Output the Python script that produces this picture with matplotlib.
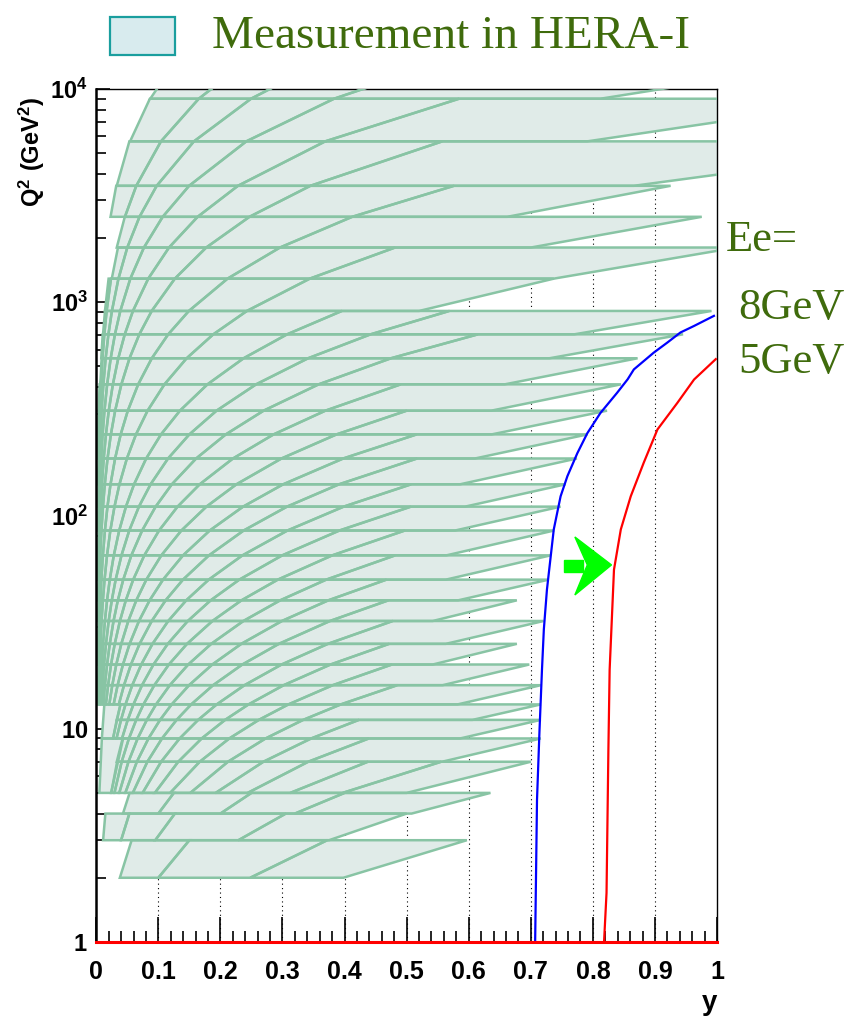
import numpy as np
import matplotlib.pyplot as plt
from matplotlib.patches import Polygon, Rectangle

plt.rcParams["mathtext.fontset"] = "custom"
plt.rcParams["mathtext.rm"] = "Liberation Sans"
plt.rcParams["mathtext.bf"] = "Liberation Sans:bold"

FILL = "#e0ebe8"
EDGE = "#88c4a4"
TXT = "#3f6b0c"

# constant-x lines of the bin grid, given as C = Q2 / y  (GeV^2)
curve_c = [106000, 54500, 36100, 23500, 15400, 10190, 6100, 3750, 2300, 1600,
           1150, 840, 620, 465, 358, 276, 217, 171, 135, 107, 85, 67, 53, 42,
           33, 26, 20.5, 16, 12.6, 10, 8, 6.3, 5]

# Q2 band edges (GeV^2)
band_q2 = [2, 3, 4, 5, 7, 9, 11, 13, 16, 20, 25, 32, 40, 50, 65, 85, 110, 140,
           185, 240, 310, 412, 546, 707, 910, 1290, 1805, 2515, 3515, 5680,
           9000, 12000]
# per band, y at the lower Q2 edge: left edge, last grid line kept, extra edges
band_y_left = [0.038, 0.011, 0.043, 0.024, 0.033, 0.027, 0.033, 0.003, 0.003,
               0.003, 0.003, 0.003, 0.003, 0.003, 0.003, 0.003, 0.003, 0.003,
               0.003, 0.003, 0.004, 0.0065, 0.008, 0.0109, 0.014, 0.025, 0.033,
               0.023, 0.033, 0.0545, 0.087]
band_y_cut = [0.0, 0.0, 0.0, 0.40, 0.42, 0.42, 0.42, 0.42, 0.42, 0.42, 0.42,
              0.42, 0.42, 0.42, 0.42, 0.42, 0.42, 0.42, 0.42, 0.42, 0.42, 0.45,
              0.5, 0.5, 0.25, 0.35, 0.48, 0.42, 0.35, 0.37, 0.40]
band_y_extra = [[0.1, 0.248, 0.398], [0.04, 0.095, 0.229, 0.375],
                [0.1, 0.2, 0.32, 0.508], [0.50], [0.557], [0.586], [0.606],
                [0.582], [0.558], [0.542], [0.563], [0.542], [0.583], [0.563],
                [0.564], [0.578], [0.594], [0.586], [0.610], [0.637], [0.636],
                [0.658], [0.73], [0.77], [0.52], [0.737], [0.70], [0.662],
                [0.866], [0.791], [0.812]]

# wide low-y bins that span two Q2 bands: Q2 low, Q2 high, y edges at Q2 low
wide_q2_lo = [5, 9]
wide_q2_hi = [9, 13]
wide_y = [[0.005, 0.024], [0.009, 0.027]]

# kinematic limits for the two electron beam energies
ee8_y = [0.707, 0.710, 0.714, 0.718, 0.721, 0.726, 0.737, 0.748, 0.759, 0.775,
         0.791, 0.812, 0.839, 0.856, 0.866, 0.898, 0.920, 0.941, 0.963, 0.995]
ee8_q2 = [1.0, 4.64, 9.78, 18.9, 29.2, 44.9, 86, 123, 153, 196, 243, 302, 376,
          435, 484, 580, 647, 721, 774, 863]
ee5_y = [0.818, 0.822, 0.825, 0.827, 0.834, 0.845, 0.861, 0.882, 0.904, 0.936,
         0.963, 0.998]
ee5_q2 = [1.0, 1.7, 8, 18.9, 55.7, 86, 123, 177, 253, 337, 434, 541]

xticks = [0, 0.1, 0.2, 0.3, 0.4, 0.5, 0.6, 0.7, 0.8, 0.9, 1]
xtick_labels = ["0", "0.1", "0.2", "0.3", "0.4", "0.5", "0.6", "0.7", "0.8", "0.9", "1"]
yticks = [1, 10, 100, 1000, 10000]
ytick_labels = [r"$\mathbf{1}$", r"$\mathbf{10}$", r"$\mathbf{10^{2}}$",
                r"$\mathbf{10^{3}}$", r"$\mathbf{10^{4}}$"]


def add_bin(ax, a, b, q_lo, q_hi):
    # a bin bounded by two Q2 values and two constant-x lines
    r = q_hi / q_lo
    verts = [(a, q_lo), (b, q_lo), (b * r, q_hi), (a * r, q_hi)]
    ax.add_patch(Polygon(verts, closed=True, facecolor=FILL,
                         edgecolor="none", zorder=2))
    ax.add_patch(Polygon(verts, closed=True, facecolor="none",
                         edgecolor=EDGE, lw=1.8, zorder=3))


fig = plt.figure(figsize=(8.58, 10.18), dpi=100)
ax = fig.add_axes([0.1122, 0.0747, 0.7235, 0.8379])
ax.set_yscale("log")
ax.set_xlim(0, 1)
ax.set_ylim(1, 1e4)

# dotted grid behind the bins
for xv in xticks[1:-1]:
    ax.axvline(xv, color="black", ls=(0, (1, 3)), lw=0.8, zorder=1)

for i in range(len(band_y_left)):
    q_lo, q_hi = band_q2[i], band_q2[i + 1]
    yl = band_y_left[i]
    edges = [yl] + [q_lo / c for c in curve_c
                    if yl * 1.08 < q_lo / c <= band_y_cut[i]] + band_y_extra[i]
    edges = sorted(edges)
    for a, b in zip(edges[:-1], edges[1:]):
        add_bin(ax, a, b, q_lo, q_hi)

for q_lo, q_hi, ys in zip(wide_q2_lo, wide_q2_hi, wide_y):
    for a, b in zip(ys[:-1], ys[1:]):
        add_bin(ax, a, b, q_lo, q_hi)

ax.plot(ee8_y, ee8_q2, color="blue", lw=1.6, zorder=4)
ax.plot(ee5_y, ee5_q2, color="red", lw=1.6, zorder=4)
ax.plot([0, 1], [1, 1], color="red", lw=2.2, zorder=5, clip_on=False)

# green arrow (axes fraction)
ax.add_patch(Rectangle((0.753, 0.4338), 0.031, 0.014, transform=ax.transAxes,
                       color="#00ff00", zorder=6))
ax.add_patch(Polygon([(0.771, 0.4748), (0.830, 0.442), (0.771, 0.4068),
                      (0.791, 0.442)], closed=True, transform=ax.transAxes,
                     color="#00ff00", zorder=6))

ax.set_xticks(xticks)
ax.set_xticklabels(xtick_labels)
ax.set_xticks(np.arange(0.02, 1.0, 0.02), minor=True)
ax.set_yticks(yticks)
ax.set_yticklabels(ytick_labels)
ax.tick_params(axis="both", which="both", direction="in", top=False, right=False)
ax.tick_params(axis="x", which="major", length=18, width=1.2, labelsize=18, pad=13)
ax.tick_params(axis="x", which="minor", length=8, width=1.2)
ax.tick_params(axis="y", which="major", length=10, width=1.2, labelsize=17, pad=6)
ax.tick_params(axis="y", which="minor", length=7, width=1.2)
for lab in ax.get_xticklabels():
    lab.set_fontweight("bold")
    lab.set_family("Liberation Sans")
ax.spines["left"].set_linewidth(1.8)
ax.spines["bottom"].set_linewidth(1.8)
ax.spines["top"].set_linewidth(1.0)
ax.spines["right"].set_linewidth(1.0)
ax.spines["left"].set_zorder(4)

fig.text(0.818, 0.008, "y", fontsize=20, fontweight="bold", family="Liberation Sans")
fig.text(0.020, 0.905, r"$\mathbf{Q^{2}\ (GeV^{2})}$", fontsize=17, rotation=90,
         ha="left", va="top")

# legend box and labels
fig.patches.append(Rectangle((110 / 858, 1 - 55 / 1018), 65 / 858, 38 / 1018,
                             transform=fig.transFigure, facecolor="#d8ebee",
                             edgecolor="#1a9e9e", lw=1.6))
fig.text(212 / 858, 1 - 37 / 1018, "Measurement in HERA-I", fontsize=34,
         family="Liberation Serif", color=TXT, va="center")
fig.text(726 / 858, 1 - 240 / 1018, "Ee=", fontsize=32,
         family="Liberation Serif", color=TXT, va="center")
fig.text(738 / 858, 1 - 308 / 1018, "8GeV", fontsize=32,
         family="Liberation Serif", color=TXT, va="center")
fig.text(738 / 858, 1 - 362 / 1018, "5GeV", fontsize=32,
         family="Liberation Serif", color=TXT, va="center")

fig.savefig("out.png", dpi=100)
